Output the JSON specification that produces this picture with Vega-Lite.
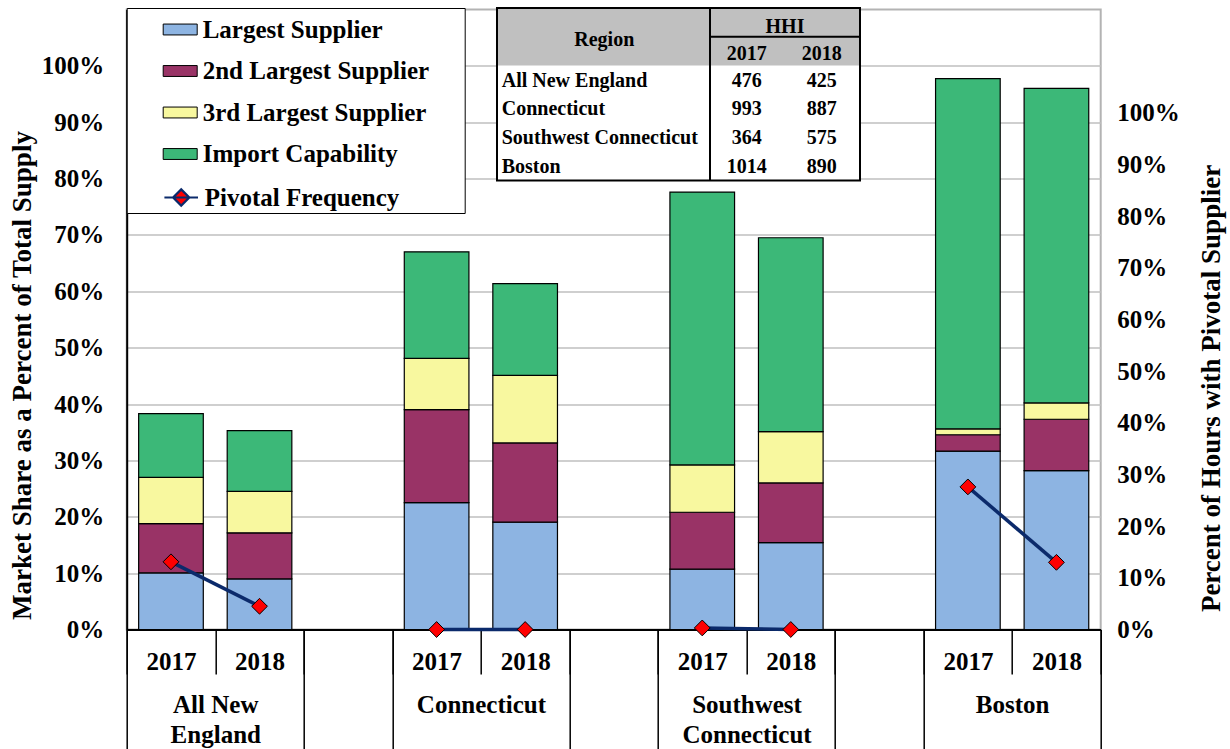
{
  "$schema": "https://vega.github.io/schema/vega-lite/v6.json",
  "width": 974,
  "height": 620,
  "autosize": {"type": "none"},
  "padding": {"left": 126.7, "top": 9.5, "right": 129.3, "bottom": 119.5},
  "background": "white",
  "config": {
    "font": "Liberation Serif",
    "view": {"stroke": "#B3B3B3", "strokeWidth": 2},
    "axis": {
      "labelFont": "Liberation Serif", "labelFontWeight": "bold", "labelFontSize": 25, "labelColor": "black",
      "titleFont": "Liberation Serif", "titleFontWeight": "bold", "titleFontSize": 27, "titleColor": "black"
    },
    "legend": {
      "labelFont": "Liberation Serif", "labelFontSize": 25, "labelFontWeight": "bold", "labelColor": "black"
    }
  },
  "datasets": {
    "shares": [
      {"bar": "All New England|2017", "series": "Largest Supplier", "rank": 1, "share": 0.1005},
      {"bar": "All New England|2017", "series": "2nd Largest Supplier", "rank": 2, "share": 0.0875},
      {"bar": "All New England|2017", "series": "3rd Largest Supplier", "rank": 3, "share": 0.082},
      {"bar": "All New England|2017", "series": "Import Capability", "rank": 4, "share": 0.113},
      {"bar": "All New England|2018", "series": "Largest Supplier", "rank": 1, "share": 0.0898},
      {"bar": "All New England|2018", "series": "2nd Largest Supplier", "rank": 2, "share": 0.0817},
      {"bar": "All New England|2018", "series": "3rd Largest Supplier", "rank": 3, "share": 0.0735},
      {"bar": "All New England|2018", "series": "Import Capability", "rank": 4, "share": 0.108},
      {"bar": "Connecticut|2017", "series": "Largest Supplier", "rank": 1, "share": 0.225},
      {"bar": "Connecticut|2017", "series": "2nd Largest Supplier", "rank": 2, "share": 0.165},
      {"bar": "Connecticut|2017", "series": "3rd Largest Supplier", "rank": 3, "share": 0.091},
      {"bar": "Connecticut|2017", "series": "Import Capability", "rank": 4, "share": 0.189},
      {"bar": "Connecticut|2018", "series": "Largest Supplier", "rank": 1, "share": 0.1905},
      {"bar": "Connecticut|2018", "series": "2nd Largest Supplier", "rank": 2, "share": 0.1405},
      {"bar": "Connecticut|2018", "series": "3rd Largest Supplier", "rank": 3, "share": 0.12},
      {"bar": "Connecticut|2018", "series": "Import Capability", "rank": 4, "share": 0.1625},
      {"bar": "Southwest Connecticut|2017", "series": "Largest Supplier", "rank": 1, "share": 0.107},
      {"bar": "Southwest Connecticut|2017", "series": "2nd Largest Supplier", "rank": 2, "share": 0.101},
      {"bar": "Southwest Connecticut|2017", "series": "3rd Largest Supplier", "rank": 3, "share": 0.084},
      {"bar": "Southwest Connecticut|2017", "series": "Import Capability", "rank": 4, "share": 0.484},
      {"bar": "Southwest Connecticut|2018", "series": "Largest Supplier", "rank": 1, "share": 0.154},
      {"bar": "Southwest Connecticut|2018", "series": "2nd Largest Supplier", "rank": 2, "share": 0.106},
      {"bar": "Southwest Connecticut|2018", "series": "3rd Largest Supplier", "rank": 3, "share": 0.091},
      {"bar": "Southwest Connecticut|2018", "series": "Import Capability", "rank": 4, "share": 0.344},
      {"bar": "Boston|2017", "series": "Largest Supplier", "rank": 1, "share": 0.3165},
      {"bar": "Boston|2017", "series": "2nd Largest Supplier", "rank": 2, "share": 0.029},
      {"bar": "Boston|2017", "series": "3rd Largest Supplier", "rank": 3, "share": 0.0105},
      {"bar": "Boston|2017", "series": "Import Capability", "rank": 4, "share": 0.6215},
      {"bar": "Boston|2018", "series": "Largest Supplier", "rank": 1, "share": 0.282},
      {"bar": "Boston|2018", "series": "2nd Largest Supplier", "rank": 2, "share": 0.091},
      {"bar": "Boston|2018", "series": "3rd Largest Supplier", "rank": 3, "share": 0.029},
      {"bar": "Boston|2018", "series": "Import Capability", "rank": 4, "share": 0.558}
    ],
    "pivotal": [
      {"bar": "All New England|2017", "region": "All New England", "pivotal": 0.131},
      {"bar": "All New England|2018", "region": "All New England", "pivotal": 0.045},
      {"bar": "Connecticut|2017", "region": "Connecticut", "pivotal": 0.0},
      {"bar": "Connecticut|2018", "region": "Connecticut", "pivotal": 0.0},
      {"bar": "Southwest Connecticut|2017", "region": "Southwest Connecticut", "pivotal": 0.003},
      {"bar": "Southwest Connecticut|2018", "region": "Southwest Connecticut", "pivotal": 0.0},
      {"bar": "Boston|2017", "region": "Boston", "pivotal": 0.276},
      {"bar": "Boston|2018", "region": "Boston", "pivotal": 0.13}
    ],
    "hhi": [
      {"region": "All New England", "hhi2017": 476, "hhi2018": 425},
      {"region": "Connecticut", "hhi2017": 993, "hhi2018": 887},
      {"region": "Southwest Connecticut", "hhi2017": 364, "hhi2018": 575},
      {"region": "Boston", "hhi2017": 1014, "hhi2018": 890}
    ]
  },
  "layer": [
    {
      "data": {"name": "shares"},
      "mark": {"type": "bar", "width": {"band": 0.73}, "stroke": "black", "strokeWidth": 1.2},
      "encoding": {
        "x": {
          "field": "bar", "type": "nominal",
          "scale": {"type": "band", "paddingInner": 0, "paddingOuter": 0,
            "domain": ["All New England|2017", "All New England|2018", " ", "Connecticut|2017", "Connecticut|2018", "  ", "Southwest Connecticut|2017", "Southwest Connecticut|2018", "   ", "Boston|2017", "Boston|2018"]},
          "axis": {
            "orient": "bottom", "title": null, "grid": false,
            "tickBand": "extent", "tickSize": 44.5, "tickColor": "black", "tickWidth": 1.5,
            "domainColor": "black", "domainWidth": 2,
            "labelExpr": "isString(datum.value) && indexof(datum.value, '|') > 0 ? split(datum.value, '|')[1] : ''",
            "labelAngle": 0, "labelBaseline": "middle", "labelPadding": -12.5, "labelOverlap": false
          }
        },
        "y": {
          "field": "share", "type": "quantitative", "stack": "zero",
          "scale": {"domain": [0, 1.1], "nice": false},
          "axis": {
            "orient": "left", "title": "Market Share as a Percent of Total Supply",
            "values": [0, 0.1, 0.2, 0.3, 0.4, 0.5, 0.6, 0.7, 0.8, 0.9, 1.0], "format": ".0%",
            "grid": true, "gridColor": "#BFBFBF", "gridWidth": 1.5,
            "ticks": false, "domainColor": "black", "domainWidth": 2, "labelPadding": 23,
            "titleX": -104.7, "titleY": 365.5, "titleAngle": 270, "titleAlign": "center", "titleBaseline": "middle"
          }
        },
        "color": {
          "field": "series", "type": "nominal",
          "scale": {
            "domain": ["Largest Supplier", "2nd Largest Supplier", "3rd Largest Supplier", "Import Capability", "Pivotal Frequency"],
            "range": ["#8DB4E2", "#993366", "#F8F89F", "#3CB878", "#FF0000"]
          },
          "legend": {
            "orient": "none", "legendX": 0, "legendY": -1.5, "title": null, "direction": "vertical",
            "padding": 4, "symbolOffset": 32, "labelOffset": 5, "rowPadding": 10.5,
            "symbolSize": 1156, "strokeColor": "black", "fillColor": "white", "labelLimit": 400,
            "symbolType": "M-1,-0.32L1,-0.32L1,0.32L-1,0.32Z",
            "symbolStrokeColor": "black", "symbolStrokeWidth": 1, "symbolOpacity": 1,
            "labelExpr": "datum.label === 'Pivotal Frequency' ? '' : datum.label + '\u00a0\u00a0\u00a0\u00a0\u00a0\u2060'"
          }
        },
        "order": {"field": "rank", "type": "quantitative"}
      }
    },
    {
      "data": {"name": "pivotal"},
      "encoding": {
        "x": {
          "field": "bar", "type": "nominal",
          "scale": {"type": "band", "paddingInner": 0, "paddingOuter": 0,
            "domain": ["All New England|2017", "All New England|2018", " ", "Connecticut|2017", "Connecticut|2018", "  ", "Southwest Connecticut|2017", "Southwest Connecticut|2018", "   ", "Boston|2017", "Boston|2018"]},
          "axis": {
            "orient": "bottom", "title": null, "grid": false, "domain": false,
            "tickBand": "extent", "tickSize": 125, "tickColor": "black", "tickWidth": 1.5,
            "tickOpacity": {"condition": {"test": "isString(datum.value) && indexof(datum.value, '|2017') > 0", "value": 0}, "value": 1},
            "labelExpr": "isString(datum.value) && indexof(datum.value, '|2017') > 0 ? (datum.value === 'All New England|2017' ? ['All New', 'England'] : datum.value === 'Southwest Connecticut|2017' ? ['Southwest', 'Connecticut'] : split(datum.value, '|')[0]) : ''",
            "labelAngle": 0, "labelOffset": 44.3, "labelBaseline": "top", "labelPadding": -62, "labelLineHeight": 30,
            "labelOverlap": false, "labelBound": false
          }
        },
        "y": {
          "field": "pivotal", "type": "quantitative",
          "scale": {"domain": [0, 1.2], "nice": false},
          "axis": {
            "orient": "right", "title": "Percent of Hours with Pivotal Supplier",
            "values": [0, 0.1, 0.2, 0.3, 0.4, 0.5, 0.6, 0.7, 0.8, 0.9, 1.0], "format": ".0%",
            "grid": false, "ticks": false, "domain": false, "labelPadding": 16,
            "titleX": 110.3, "titleY": 378.5, "titleAngle": 270, "titleAlign": "center", "titleBaseline": "middle"
          }
        }
      },
      "layer": [
        {
          "mark": {"type": "line", "color": "#0B2A6B", "strokeWidth": 3.5},
          "encoding": {"detail": {"field": "region", "type": "nominal"}}
        },
        {
          "mark": {"type": "point", "shape": "diamond", "size": 250, "filled": true, "color": "#FF0000", "stroke": "black", "strokeWidth": 1, "opacity": 1}
        },
        {
          "mark": {"type": "point", "size": 0, "filled": true, "fill": "#FF0000", "stroke": "#0B2A6B", "strokeWidth": 2.5},
          "encoding": {
            "shape": {
              "datum": "Pivotal Frequency", "type": "nominal",
              "scale": {"domain": ["Pivotal Frequency"], "range": ["M-1.2,0L1.2,0M0,-0.58L0.58,0L0,0.58L-0.58,0Z"]},
              "legend": {
                "orient": "none", "legendX": 2, "legendY": 172.5, "title": null, "direction": "vertical",
                "padding": 0, "symbolOffset": 37, "labelOffset": 8,
                "symbolSize": 784, "strokeColor": null, "fillColor": "white", "labelLimit": 400,
                "symbolStrokeWidth": 2.2, "symbolOpacity": 1
              }
            }
          }
        }
      ]
    },
    {
      "layer": [
        {
          "data": {"values": [{}]},
          "encoding": {
            "x": {"datum": 0, "type": "quantitative", "scale": {"domain": [0, 4.84], "range": [370.3, 733.3], "nice": false, "zero": false}, "axis": null},
            "y": {"datum": 0, "type": "quantitative", "scale": {"domain": [0, 6], "range": [-1.5, 171], "nice": false, "zero": false}, "axis": null}
          },
          "layer": [
            {"mark": {"type": "rect", "fill": "white"}, "encoding": {"x2": {"datum": 4.84}, "y2": {"datum": 6}}},
            {"mark": {"type": "rect", "fill": "#C0C0C0"}, "encoding": {"x2": {"datum": 4.84}, "y2": {"datum": 2}}},
            {"mark": {"type": "rule", "color": "black", "strokeWidth": 2}, "encoding": {"x": {"datum": 2.84, "type": "quantitative"}, "y2": {"datum": 6}}},
            {"mark": {"type": "rule", "color": "black", "strokeWidth": 2}, "encoding": {"x": {"datum": 2.84, "type": "quantitative"}, "x2": {"datum": 4.84}, "y": {"datum": 1, "type": "quantitative"}}},
            {"mark": {"type": "rect", "fill": null, "fillOpacity": 0, "stroke": "black", "strokeWidth": 2}, "encoding": {"x2": {"datum": 4.84}, "y2": {"datum": 6}}},
            {"mark": {"type": "text", "text": "Region", "font": "Liberation Serif", "fontWeight": "bold", "fontSize": 20, "color": "black", "baseline": "middle"},
             "encoding": {"x": {"datum": 1.43, "type": "quantitative"}, "y": {"datum": 1.11, "type": "quantitative"}}},
            {"mark": {"type": "text", "text": "HHI", "font": "Liberation Serif", "fontWeight": "bold", "fontSize": 20, "color": "black", "baseline": "middle"},
             "encoding": {"x": {"datum": 3.84, "type": "quantitative"}, "y": {"datum": 0.65, "type": "quantitative"}}},
            {"mark": {"type": "text", "text": "2017", "font": "Liberation Serif", "fontWeight": "bold", "fontSize": 20, "color": "black", "baseline": "middle"},
             "encoding": {"x": {"datum": 3.33, "type": "quantitative"}, "y": {"datum": 1.6, "type": "quantitative"}}},
            {"mark": {"type": "text", "text": "2018", "font": "Liberation Serif", "fontWeight": "bold", "fontSize": 20, "color": "black", "baseline": "middle"},
             "encoding": {"x": {"datum": 4.33, "type": "quantitative"}, "y": {"datum": 1.6, "type": "quantitative"}}}
          ]
        },
        {
          "data": {"name": "hhi"},
          "encoding": {
            "y": {"field": "region", "type": "nominal", "axis": null,
              "scale": {"type": "point", "padding": 0, "domain": ["All New England", "Connecticut", "Southwest Connecticut", "Boston"], "range": [71.2, 157.5]}}
          },
          "layer": [
            {"mark": {"type": "text", "align": "left", "font": "Liberation Serif", "fontWeight": "bold", "fontSize": 20, "color": "black", "baseline": "middle"},
             "encoding": {"x": {"datum": 0.063, "type": "quantitative"}, "text": {"field": "region", "type": "nominal"}}},
            {"mark": {"type": "text", "align": "center", "font": "Liberation Serif", "fontWeight": "bold", "fontSize": 20, "color": "black", "baseline": "middle"},
             "encoding": {"x": {"datum": 3.33, "type": "quantitative"}, "text": {"field": "hhi2017", "type": "quantitative", "format": "d"}}},
            {"mark": {"type": "text", "align": "center", "font": "Liberation Serif", "fontWeight": "bold", "fontSize": 20, "color": "black", "baseline": "middle"},
             "encoding": {"x": {"datum": 4.33, "type": "quantitative"}, "text": {"field": "hhi2018", "type": "quantitative", "format": "d"}}}
          ]
        }
      ],
      "resolve": {"scale": {"y": "independent"}}
    }
  ],
  "resolve": {
    "scale": {"x": "independent", "y": "independent"},
    "axis": {"x": "independent", "y": "independent"}
  }
}
